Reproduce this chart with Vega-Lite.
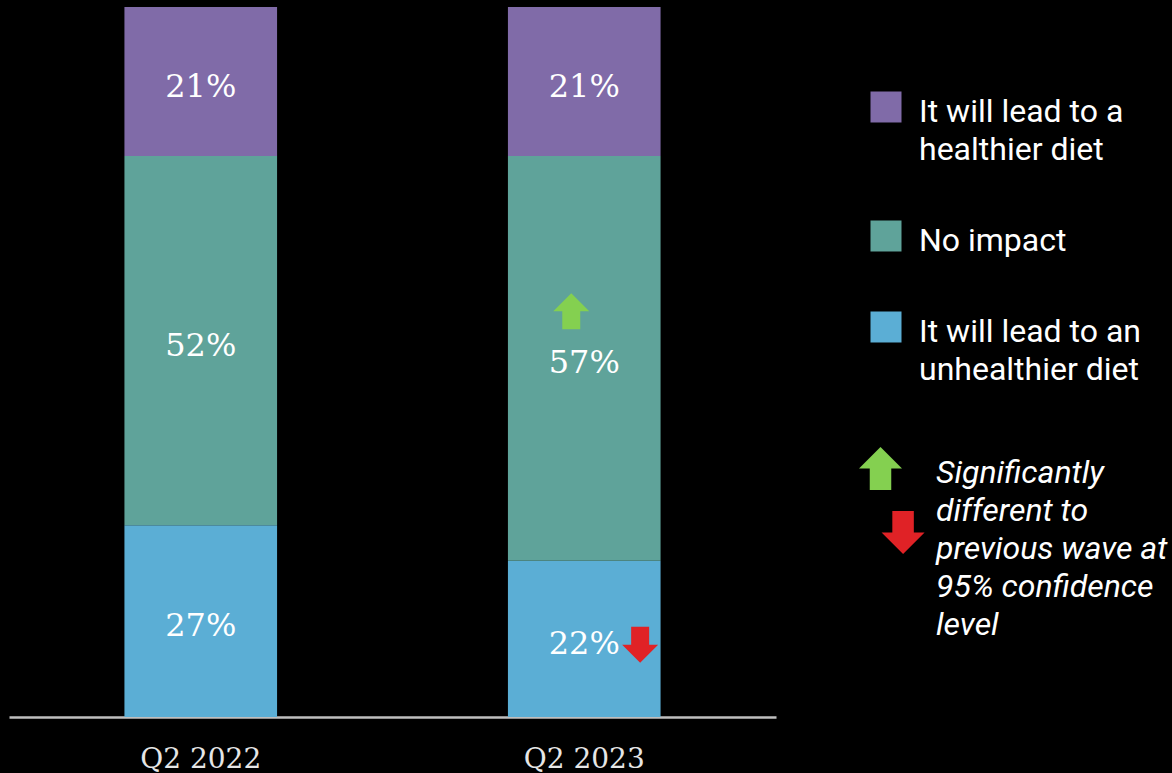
{
  "$schema": "https://vega.github.io/schema/vega-lite/v6.json",
  "autosize": "none",
  "width": 767,
  "height": 710,
  "padding": {"left": 9, "top": 7, "right": 396, "bottom": 56},
  "background": "#000000",
  "config": {
    "view": {"stroke": null},
    "style": {"guide-label": {"lineHeight": 38}}
  },
  "data": {
    "values": [
      {"wave": "Q2 2022", "segment": "It will lead to an unhealthier diet", "order": 1, "pct": 0.27},
      {"wave": "Q2 2022", "segment": "No impact", "order": 2, "pct": 0.52},
      {"wave": "Q2 2022", "segment": "It will lead to a healthier diet", "order": 3, "pct": 0.21},
      {"wave": "Q2 2023", "segment": "It will lead to an unhealthier diet", "order": 1, "pct": 0.22, "change": "down"},
      {"wave": "Q2 2023", "segment": "No impact", "order": 2, "pct": 0.57, "change": "up"},
      {"wave": "Q2 2023", "segment": "It will lead to a healthier diet", "order": 3, "pct": 0.21}
    ]
  },
  "transform": [
    {"stack": "pct", "groupby": ["wave"], "sort": [{"field": "order"}], "as": ["y0", "y1"]},
    {"calculate": "(datum.y0 + datum.y1) / 2", "as": "ymid"}
  ],
  "encoding": {
    "x": {
      "field": "wave",
      "type": "nominal",
      "scale": {"paddingInner": 0, "paddingOuter": 0},
      "axis": {
        "title": null,
        "labelAngle": 0,
        "ticks": false,
        "tickSize": 0,
        "grid": false,
        "domainColor": "#BFBFBF",
        "domainWidth": 2.5,
        "labelFont": "DejaVu Serif",
        "labelFontSize": 28,
        "labelColor": "#E6E6E6",
        "labelPadding": 28
      }
    }
  },
  "layer": [
    {
      "mark": {"type": "bar", "width": {"band": 0.398}},
      "encoding": {
        "y": {"field": "y0", "type": "quantitative", "scale": {"domain": [0, 1], "nice": false, "zero": true}, "axis": null},
        "y2": {"field": "y1"},
        "color": {
          "field": "segment",
          "type": "nominal",
          "scale": {
            "domain": ["It will lead to a healthier diet", "No impact", "It will lead to an unhealthier diet"],
            "range": ["#806BA8", "#5FA39A", "#5BAED5"]
          },
          "legend": {
            "orient": "none",
            "legendX": 861,
            "legendY": 74,
            "title": null,
            "padding": 0,
            "symbolType": "M-1,-0.355L1,-0.355L1,1.645L-1,1.645Z",
            "symbolSize": 961,
            "symbolStrokeWidth": 0,
            "symbolOpacity": 1,
            "labelFont": "Roboto",
            "labelFontSize": 32,
            "labelColor": "#FFFFFF",
            "labelBaseline": "top",
            "labelOffset": 17,
            "labelLimit": 400,
            "rowPadding": 44,
            "labelExpr": "datum.label == 'No impact' ? 'No impact' : (datum.label == 'It will lead to a healthier diet' ? ['It will lead to a', 'healthier diet'] : ['It will lead to an', 'unhealthier diet'])"
          }
        }
      }
    },
    {
      "mark": {"type": "text", "font": "DejaVu Serif", "fontSize": 32, "color": "#FFFFFF", "dy": 5},
      "encoding": {
        "y": {"field": "ymid", "type": "quantitative"},
        "text": {"field": "pct", "type": "quantitative", "format": ".0%"}
      }
    },
    {
      "transform": [{"filter": "datum.change == 'up'"}],
      "mark": {"type": "point", "filled": true, "opacity": 1, "strokeWidth": 0, "size": 1296, "xOffset": -13, "yOffset": -38},
      "encoding": {
        "y": {"field": "ymid", "type": "quantitative"},
        "shape": {"field": "change", "type": "nominal", "scale": {"domain": ["up", "down"], "range": ["M0,-1.51L1,-0.51L0.5,-0.51L0.5,0.49L-0.5,0.49L-0.5,-0.51L-1,-0.51Z", "M0.55,-1.51L1.55,-1.51L1.55,-0.51L2.05,-0.51L1.05,0.49L0.05,-0.51L0.55,-0.51Z"]}, "legend": {
            "orient": "none",
            "legendX": 850,
            "legendY": 451,
            "padding": 0,
            "title": ["Significantly", "different to", "previous wave at", "95% confidence", "level"],
            "titleOrient": "right",
            "titleAnchor": "start",
            "titleBaseline": "top",
            "titleAlign": "left",
            "titleFont": "Roboto",
            "titleFontSize": 32,
            "titleFontStyle": "italic",
            "titleFontWeight": "normal",
            "titleColor": "#FFFFFF",
            "titleLineHeight": 38,
            "titlePadding": 11,
            "titleLimit": 400,
            "labelExpr": "''",
            "symbolSize": 1849,
            "symbolStrokeWidth": 0,
            "symbolOpacity": 1,
            "rowPadding": 20
          }},
        "fill": {"field": "change", "type": "nominal", "scale": {"domain": ["up", "down"], "range": ["#84D050", "#E02226"]}, "legend": {
            "orient": "none",
            "legendX": 850,
            "legendY": 451,
            "padding": 0,
            "title": ["Significantly", "different to", "previous wave at", "95% confidence", "level"],
            "titleOrient": "right",
            "titleAnchor": "start",
            "titleBaseline": "top",
            "titleAlign": "left",
            "titleFont": "Roboto",
            "titleFontSize": 32,
            "titleFontStyle": "italic",
            "titleFontWeight": "normal",
            "titleColor": "#FFFFFF",
            "titleLineHeight": 38,
            "titlePadding": 11,
            "titleLimit": 400,
            "labelExpr": "''",
            "symbolSize": 1849,
            "symbolStrokeWidth": 0,
            "symbolOpacity": 1,
            "rowPadding": 20
          }}
      }
    },
    {
      "transform": [{"filter": "datum.change == 'down'"}],
      "mark": {"type": "point", "filled": true, "opacity": 1, "strokeWidth": 0, "size": 1296, "xOffset": 37, "yOffset": 15},
      "encoding": {
        "y": {"field": "ymid", "type": "quantitative"},
        "shape": {"field": "change", "type": "nominal"},
        "fill": {"field": "change", "type": "nominal"}
      }
    }
  ]
}
